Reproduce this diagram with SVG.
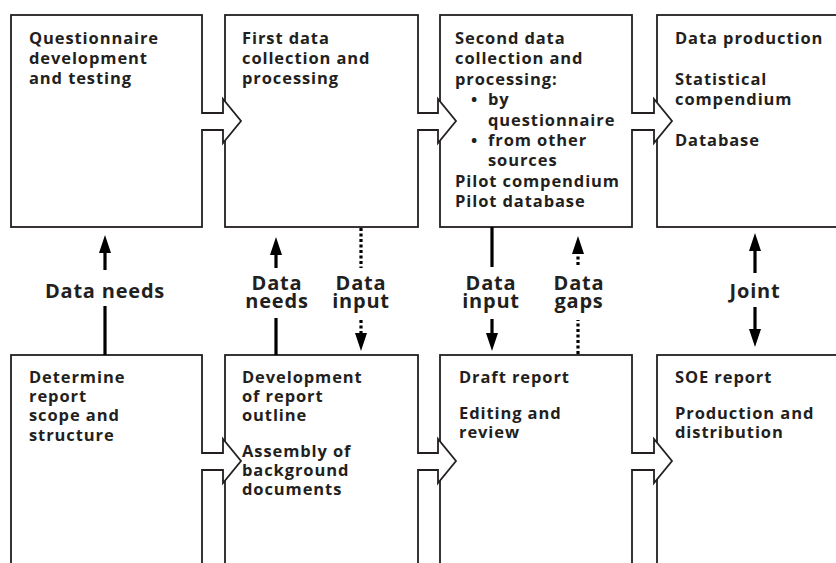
<svg xmlns="http://www.w3.org/2000/svg" width="836" height="563" viewBox="0 0 836 563">
<style>
.box{fill:#fff;stroke:#231f20;stroke-width:1.8}
.af{fill:#fff;stroke:none}
.as{fill:none;stroke:#231f20;stroke-width:1.8;stroke-linejoin:miter}
text{font-family:"Open Sans","Noto Sans",sans-serif;font-weight:700;fill:#231f20}
.t{font-size:16.5px;letter-spacing:0.9px}
.lbl{font-size:20px;text-anchor:middle;letter-spacing:0.8px}
.solid{stroke:#000;stroke-width:3.2;fill:none}
.dot{stroke:#000;stroke-width:3.2;stroke-dasharray:3 2.5;fill:none}
.head{fill:#000}
</style>
<g id="box1">
<rect class="box" x="11" y="15" width="191" height="212"/>
<text class="t" x="29" y="44">Questionnaire</text>
<text class="t" x="29" y="64">development</text>
<text class="t" x="29" y="84">and testing</text>
</g>
<g id="box2">
<rect class="box" x="225" y="15" width="193" height="212"/>
<text class="t" x="242" y="44">First data</text>
<text class="t" x="242" y="64">collection and</text>
<text class="t" x="242" y="84">processing</text>
</g>
<g id="box3">
<rect class="box" x="440" y="15" width="192" height="212"/>
<text class="t" x="455" y="44">Second data</text>
<text class="t" x="455" y="64.4">collection and</text>
<text class="t" x="455" y="84.8">processing:</text>
<text class="t" x="471" y="105.2">•</text>
<text class="t" x="488" y="105.2">by</text>
<text class="t" x="488" y="125.6">questionnaire</text>
<text class="t" x="471" y="146">•</text>
<text class="t" x="488" y="146">from other</text>
<text class="t" x="488" y="166.4">sources</text>
<text class="t" x="455" y="186.8">Pilot compendium</text>
<text class="t" x="455" y="207.2">Pilot database</text>
</g>
<g id="box4">
<rect class="box" x="657" y="15" width="200" height="212"/>
<text class="t" x="675" y="44">Data production</text>
<text class="t" x="675" y="84.8">Statistical</text>
<text class="t" x="675" y="105.2">compendium</text>
<text class="t" x="675" y="146">Database</text>
</g>
<g id="box5">
<rect class="box" x="11" y="355" width="191" height="230"/>
<text class="t" x="29" y="383">Determine</text>
<text class="t" x="29" y="402">report</text>
<text class="t" x="29" y="421">scope and</text>
<text class="t" x="29" y="441">structure</text>
</g>
<g id="box6">
<rect class="box" x="225" y="355" width="193" height="230"/>
<text class="t" x="242" y="383">Development</text>
<text class="t" x="242" y="402">of report</text>
<text class="t" x="242" y="421">outline</text>
<text class="t" x="242" y="457">Assembly of</text>
<text class="t" x="242" y="476">background</text>
<text class="t" x="242" y="495">documents</text>
</g>
<g id="box7">
<rect class="box" x="440" y="355" width="192" height="230"/>
<text class="t" x="459" y="383">Draft report</text>
<text class="t" x="459" y="419">Editing and</text>
<text class="t" x="459" y="438">review</text>
</g>
<g id="box8">
<rect class="box" x="657" y="355" width="200" height="230"/>
<text class="t" x="675" y="383">SOE report</text>
<text class="t" x="675" y="419">Production and</text>
<text class="t" x="675" y="438">distribution</text>
</g>
<g id="connectors">
<path class="af" d="M200,114 H223 V99 L241,121 L223,143 V129 H200 Z"/>
<path class="as" d="M202,113 H223 V99 L241,121 L223,143 V130 H202"/>
<path class="af" d="M416,114 H438 V99 L456,121 L438,143 V129 H416 Z"/>
<path class="as" d="M418,113 H438 V99 L456,121 L438,143 V130 H418"/>
<path class="af" d="M630,114 H654 V99 L672,121 L654,143 V129 H630 Z"/>
<path class="as" d="M632,113 H654 V99 L672,121 L654,143 V130 H632"/>
<path class="af" d="M200,454 H223 V439 L241,461 L223,483 V469 H200 Z"/>
<path class="as" d="M202,453 H223 V439 L241,461 L223,483 V470 H202"/>
<path class="af" d="M416,454 H438 V439 L456,461 L438,483 V469 H416 Z"/>
<path class="as" d="M418,453 H438 V439 L456,461 L438,483 V470 H418"/>
<path class="af" d="M630,454 H654 V439 L672,461 L654,483 V469 H630 Z"/>
<path class="as" d="M632,453 H654 V439 L672,461 L654,483 V470 H632"/>
<path class="solid" d="M105,355 V306 M105,270 V250"/>
<polygon class="head" points="105,235 111,253 99,253"/>
<text class="lbl" x="105" y="298">Data needs</text>
<path class="solid" d="M276,355 V318 M276,268 V250"/>
<polygon class="head" points="276,237 282,255 270,255"/>
<text class="lbl"><tspan x="277" y="290">Data</tspan><tspan x="277" y="308">needs</tspan></text>
<path class="dot" d="M361,228 V268 M361,320 V333"/>
<polygon class="head" points="361,351 367,333 355,333"/>
<text class="lbl"><tspan x="361" y="290">Data</tspan><tspan x="361" y="308">input</tspan></text>
<path class="solid" d="M492,227 V267 M492,319 V334"/>
<polygon class="head" points="492,351 498,333 486,333"/>
<text class="lbl"><tspan x="491" y="290">Data</tspan><tspan x="491" y="308">input</tspan></text>
<path class="dot" d="M578,354 V320 M578,265 V253"/>
<polygon class="head" points="578,236 584,254 572,254"/>
<text class="lbl"><tspan x="579" y="290">Data</tspan><tspan x="579" y="308">gaps</tspan></text>
<path class="solid" d="M755,251 V273 M755,307 V329"/>
<polygon class="head" points="755,233 761,251 749,251"/>
<polygon class="head" points="755,347 761,329 749,329"/>
<text class="lbl" x="755" y="298">Joint</text>
</g>
</svg>
